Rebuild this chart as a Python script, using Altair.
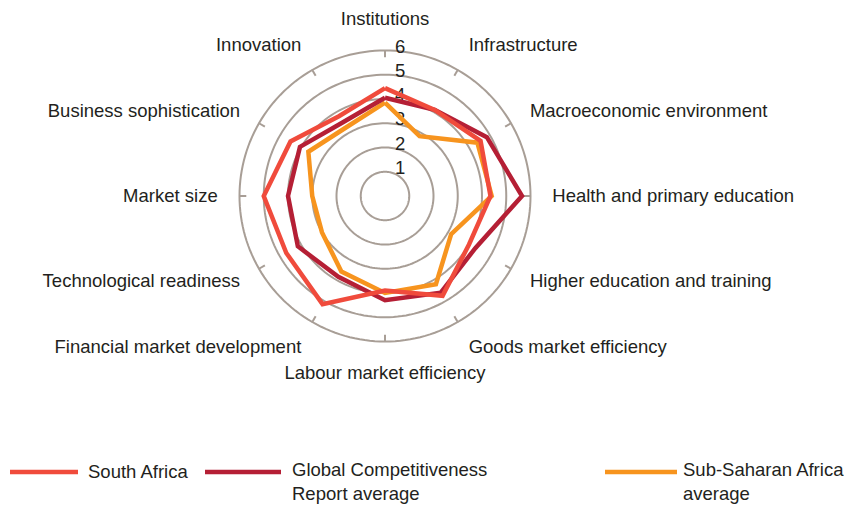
import altair as alt
import pandas as pd

# ---- data ----
categories = ["Institutions", "Infrastructure", "Macroeconomic environment",
              "Health and primary education", "Higher education and training",
              "Goods market efficiency", "Labour market efficiency",
              "Financial market development", "Technological readiness",
              "Market size", "Business sophistication", "Innovation"]
south_africa = [4.45, 4.1, 4.55, 4.35, 4.0, 4.75, 3.9, 5.15, 4.7, 5.0, 4.5, 3.8]
gcr_average = [4.05, 4.1, 4.85, 5.65, 4.3, 4.6, 4.3, 3.85, 4.15, 4.0, 4.05, 3.5]
ssa_average = [3.85, 2.85, 4.4, 4.4, 3.15, 4.2, 4.0, 3.6, 3.0, 3.0, 3.65, 3.25]
series_names = ["Sub-Saharan Africa average", "Global Competitiveness Report average", "South Africa"]
series_values = [ssa_average, gcr_average, south_africa]
series_colors = ["#F7941E", "#B51F35", "#F04B3C"]
ring_levels = [1, 2, 3, 4, 5, 6]

FONT = "Liberation Sans"
FS = 18.5
TXT = "#231F20"
RING = "#A89E96"
N = len(categories)

# ---- layout (pixel geometry of the chart canvas) ----
W, H = 836, 497
CX, CY, UNIT = 377, 188, 24.25
xdom = [-CX / UNIT, (W - CX) / UNIT]
ydom = [-(H - CY) / UNIT, CY / UNIT]
xs = alt.Scale(domain=xdom, nice=False, zero=False)
ys = alt.Scale(domain=ydom, nice=False, zero=False)
X = lambda f: alt.X(f, type="quantitative", scale=xs, axis=None)
Y = lambda f: alt.Y(f, type="quantitative", scale=ys, axis=None)

# ---- tables ----
rows = []
for s, vals in zip(series_names, series_values):
    for k in range(N + 1):
        rows.append({"series": s, "idx": k % N, "ord": k, "value": vals[k % N]})
poly = pd.DataFrame(rows)

ring_rows = []
for r in ring_levels:
    for d in range(0, 361, 2):
        ring_rows.append({"ring": r, "deg": d})
rings_df = pd.DataFrame(ring_rows)

axes_df = pd.DataFrame({"cat": categories, "idx": list(range(N))})
ringlab_df = pd.DataFrame({"ring": ring_levels, "lab": [str(r) for r in ring_levels]})

color_scale = alt.Scale(domain=series_names, range=series_colors)

rings = alt.Chart(rings_df).transform_calculate(
    x="datum.ring*sin(datum.deg*PI/180)", y="datum.ring*cos(datum.deg*PI/180)"
).mark_line(stroke=RING, strokeWidth=2).encode(
    x=X("x"), y=Y("y"), detail="ring:N", order="deg:Q")

ticks = alt.Chart(axes_df).transform_calculate(
    a="datum.idx*2*PI/12",
).transform_calculate(
    x="5.72*sin(datum.a)", y="5.72*cos(datum.a)",
    x2="6.02*sin(datum.a)", y2="6.02*cos(datum.a)"
).mark_rule(stroke=RING, strokeWidth=2).encode(
    x=X("x"), y=Y("y"), x2="x2:Q", y2="y2:Q")

ringlabs = alt.Chart(ringlab_df).transform_calculate(
    x="0.62", y="datum.ring+0.16"
).mark_text(font=FONT, fontSize=FS, color=TXT, align="center", baseline="middle").encode(
    x=X("x"), y=Y("y"), text="lab:N")

lines = alt.Chart(poly).transform_calculate(
    a="datum.idx*2*PI/12"
).transform_calculate(
    x="datum.value*sin(datum.a)", y="datum.value*cos(datum.a)"
).mark_line(strokeWidth=4.5, strokeJoin="miter").encode(
    x=X("x"), y=Y("y"),
    color=alt.Color("series:N", scale=color_scale, legend=None),
    detail="series:N", order="ord:Q")

def axis_labels(filt, align):
    return alt.Chart(axes_df).transform_calculate(
        a="datum.idx*2*PI/12"
    ).transform_calculate(
        x="6.9*sin(datum.a)", y="6.9*cos(datum.a)+0.4*pow(cos(datum.a),3)"
    ).transform_filter(filt).mark_text(
        font=FONT, fontSize=FS, color=TXT, align=align, baseline="middle"
    ).encode(x=X("x"), y=Y("y"), text="cat:N")

lab_c = axis_labels("datum.idx == 0 || datum.idx == 6", "center")
lab_r = axis_labels("datum.idx > 0 && datum.idx < 6", "left")
lab_l = axis_labels("datum.idx > 6", "right")

# ---- legend (pixel layout) ----
leg_series = ["South Africa", "Global Competitiveness Report average", "Sub-Saharan Africa average"]
leg_line1 = ["South Africa", "Global Competitiveness", "Sub-Saharan Africa"]
leg_line2 = ["", "Report average", "average"]
leg_x0 = [2, 197, 597]
leg_x1 = [70, 273, 669]
leg_tx = [80, 284, 675]
leg_df = pd.DataFrame({"series": leg_series, "l1": leg_line1, "l2": leg_line2,
                       "x0": leg_x0, "x1": leg_x1, "tx": leg_tx,
                       "ly": [464] * 3, "t1": [464, 462, 462], "t2": [486] * 3})

leg_lines = alt.Chart(leg_df).mark_rule(strokeWidth=4.5).encode(
    x=alt.X("x0:Q", scale=None), x2="x1:Q", y=alt.Y("ly:Q", scale=None),
    color=alt.Color("series:N", scale=color_scale, legend=None))
leg_t1 = alt.Chart(leg_df).mark_text(font=FONT, fontSize=FS, color=TXT, align="left",
                                      baseline="middle").encode(
    x=alt.X("tx:Q", scale=None), y=alt.Y("t1:Q", scale=None), text="l1:N")
leg_t2 = alt.Chart(leg_df).mark_text(font=FONT, fontSize=FS, color=TXT, align="left",
                                      baseline="middle").encode(
    x=alt.X("tx:Q", scale=None), y=alt.Y("t2:Q", scale=None), text="l2:N")

chart = alt.layer(rings, ticks, ringlabs, lines, lab_c, lab_r, lab_l,
                  leg_lines, leg_t1, leg_t2).properties(
    width=W, height=H, padding=0, autosize=alt.AutoSizeParams(type="none"),
    background="white"
).configure_view(stroke=None)

chart.save("out.html", embed_options={"renderer": "svg", "actions": False})
